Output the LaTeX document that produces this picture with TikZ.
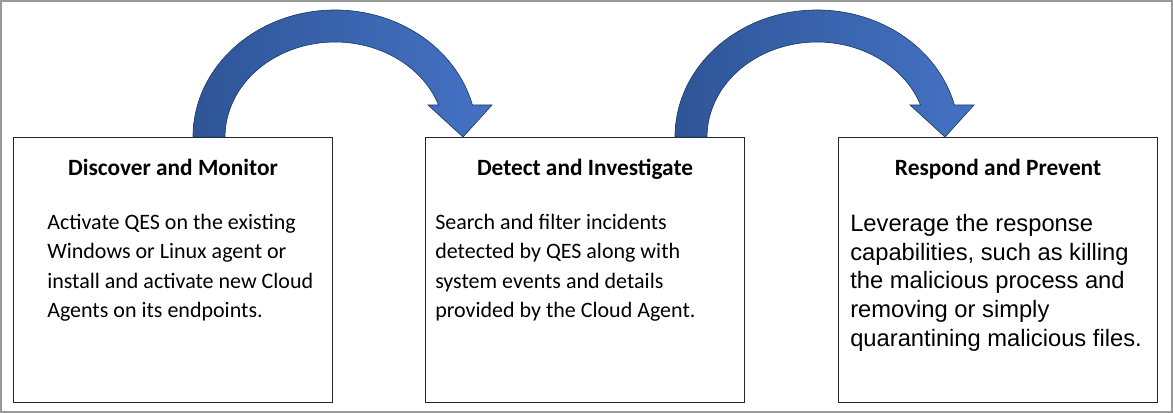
\documentclass[tikz,border=0pt]{standalone}
\usepackage{fontspec}
\setmainfont{Carlito}
\newfontfamily\roboto{Liberation Sans}
\definecolor{arcdark}{HTML}{2F5597}
\definecolor{arclight}{HTML}{4472C4}
\tikzset{
  stagebox/.style={draw=black!85, line width=0.8pt, minimum width=239.25pt, minimum height=198.75pt, anchor=north west},
  stagetitle/.style={font=\bfseries\fontsize{17.5}{20}\selectfont, anchor=north},
  stagetext/.style={font=\fontsize{16.5}{22}\selectfont, anchor=north west, align=left, inner sep=0pt},
  bentarrow/.style={draw=arcdark!70!black, line width=0.5pt, left color=arcdark, right color=arclight}
}
\newcommand{\bentarrow}[1]{%
  \path[bentarrow, shift={(#1,0)}] (193,276) arc[start angle=180, end angle=14.6, x radius=142, y radius=127]
    -- (492,308) -- (463,276) -- (428,308) -- (438.6,308)
    arc[start angle=19.7, end angle=180, x radius=110, y radius=95] -- cycle;}
\begin{document}
\begin{tikzpicture}[x=0.75pt, y=0.75pt]
  \useasboundingbox (0,0) rectangle (1173,413);
  \draw[black!40, line width=1.5pt] (1,1) rectangle (1172,412);
  % stage boxes
  \node[stagebox] (discover) at (13,276) {};
  \node[stagebox] (detect) at (425,276) {};
  \node[stagebox] (respond) at (838,276) {};
  \node[stagetitle] (discovert) at ([yshift=-13pt]discover.north) {Discover and Monitor};
  \node[stagetitle] (detectt) at ([yshift=-13pt]detect.north) {Detect and Investigate};
  \node[stagetitle] (respondt) at ([yshift=-13pt]respond.north) {Respond and Prevent};
  \node[stagetext] (discoverx) at (47,199) {Activate QES on the existing\\Windows or Linux agent or\\install and activate new Cloud\\Agents on its endpoints.};
  \node[stagetext] (detectx) at (435,199) {Search and filter incidents\\detected by QES along with\\system events and details\\provided by the Cloud Agent.};
  \node[stagetext, font=\roboto\fontsize{17.8}{21.5}\selectfont] (respondx) at (850,199) {Leverage the response\\capabilities, such as killing\\the malicious process and\\removing or simply\\quarantining malicious files.};
  % curved arrows
  \bentarrow{0}
  \bentarrow{482}
\end{tikzpicture}
\end{document}
